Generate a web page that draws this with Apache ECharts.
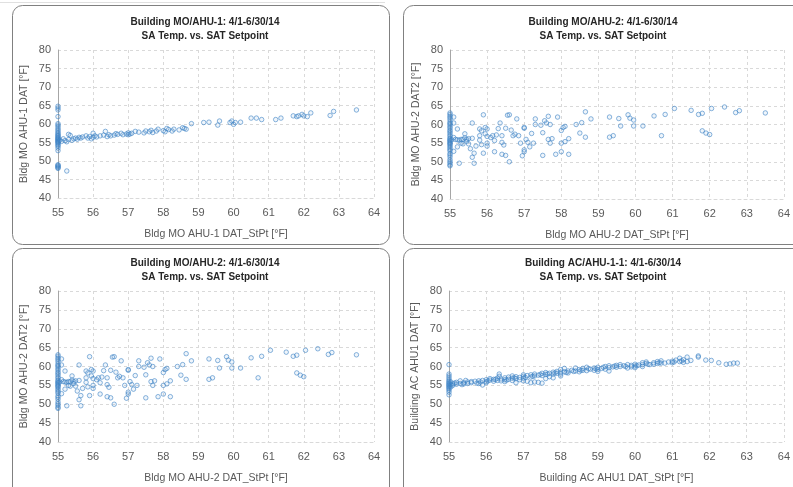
<!DOCTYPE html>
<html>
<head>
<meta charset="utf-8">
<script src="https://cdn.jsdelivr.net/npm/echarts@6/dist/echarts.min.js"></script>
<style>
  html, body { margin: 0; padding: 0; background: #fff; }
  #main { width: 793px; height: 487px; }
</style>
</head>
<body>
<div id="main"></div>
<script>
// panel titles and axis names
var titles = [
    'Building MO/AHU-1: 4/1-6/30/14',
    'Building MO/AHU-2: 4/1-6/30/14',
    'Building MO/AHU-2: 4/1-6/30/14',
    'Building AC/AHU-1-1: 4/1-6/30/14'
];
var subTitle = 'SA Temp. vs. SAT Setpoint';
var xNames = [
    'Bldg MO AHU-1 DAT_StPt [°F]',
    'Bldg MO AHU-2 DAT_StPt [°F]',
    'Bldg MO AHU-2 DAT_StPt [°F]',
    'Building AC AHU1 DAT_StPt [°F]'
];
var yNames = [
    'Bldg MO AHU-1 DAT [°F]',
    'Bldg MO AHU-2 DAT2 [°F]',
    'Bldg MO AHU-2 DAT2 [°F]',
    'Building AC AHU1 DAT [°F]'
];
var xTicks = [55, 56, 57, 58, 59, 60, 61, 62, 63, 64];
var yTicks = [40, 45, 50, 55, 60, 65, 70, 75, 80];

// MO AHU-1 : [setpoint, DAT]
var moAhu1 = [
    [55,52.8],[55,53.5],[55,54],[55,54.3],[55,54.6],[55,54.9],[55,55.1],[55,55.3],[55,55.5],[55,55.7],
    [55,55.9],[55,56.1],[55,56.3],[55,56.5],[55,56.8],[55,57],[55,57.3],[55,57.6],[55,58],[55,58.4],
    [55,58.8],[55,59.3],[55,59.7],[55,60.1],[55,62],[55,63.8],[55,64.3],[55,64.8],
    [55,48],[55,48.2],[55,48.4],[55,48.6],[55,48.8],[55,49],
    [55.05,55.6],[55.1,55.3],[55.15,56],[55.2,55.5],[55.25,55.2],[55.25,47.3],[55.3,57.2],[55.3,55.8],
    [55.35,56.9],[55.4,55.6],[55.45,56],[55.5,56.2],[55.55,55.9],[55.6,56.4],[55.65,56.2],[55.7,56.5],
    [55.8,56.8],[55.85,56.2],[55.9,56.6],[55.95,56],[56,57.5],[56,56.4],[56.05,56.8],[56.1,56.5],
    [56.2,56.8],[56.3,57],[56.35,58],[56.4,56.6],[56.45,57.1],[56.5,56.8],[56.6,57],[56.65,57.4],
    [56.7,57.2],[56.8,57.5],[56.85,57.1],[56.95,57.3],[57,57.6],[57,57.1],[57.05,57.3],[57.1,57.5],
    [57.2,58],[57.3,57.8],[57.45,57.6],[57.5,58.1],[57.6,57.9],[57.65,58.3],[57.7,57.7],[57.8,58.1],
    [57.85,58.6],[58,58.2],[58.05,57.9],[58.1,58.8],[58.15,58.5],[58.25,58.1],[58.3,58.6],[58.45,58.4],
    [58.55,59],[58.6,58.8],[58.65,58.6],[58.8,60.1],[59.15,60.4],[59.3,60.5],[59.55,59.7],[59.6,60.8],
    [59.9,60.4],[59.95,60.8],[60,59.9],[60.05,60.4],[60.2,60.5],[60.5,61.6],[60.65,61.6],[60.8,61.2],
    [61.2,61.2],[61.35,61.6],[61.7,62.2],[61.8,62],[61.85,62.2],[61.95,62.6],[62,62.2],[62.1,62],
    [62.2,63],[62.75,62.3],[62.85,63.4],[63.5,63.8]
];

// MO AHU-2 : [setpoint, DAT2]
var moAhu2 = [
    [55,48.9],[55,49.2],[55,49.7],[55,50.1],[55,50.6],[55,51.3],[55,51.8],[55,52.2],[55,52.9],[55,53.3],
    [55,53.7],[55,54.1],[55,54.5],[55,54.8],[55,55],[55,55.3],[55,55.6],[55,55.8],[55,56.1],[55,56.4],
    [55,56.9],[55,57.3],[55,57.8],[55,58.2],[55,58.6],[55,59.1],[55,59.5],[55,60],[55,60.3],[55,60.7],
    [55,61.3],[55,61.8],[55,62.2],[55,62.7],[55,63.1],
    [55.05,55.9],[55.2,55.9],[55.25,55.8],[55.35,56],[55.45,56],
    [55.1,62],[55.1,60.4],[55.1,56.5],[55.1,52.8],[55.15,56],[55.2,58.8],[55.2,54],[55.25,49.6],
    [55.3,56],[55.3,55],[55.35,54.8],[55.4,57.5],[55.4,56.4],[55.45,55.5],[55.5,56.2],[55.5,54.8],
    [55.55,53.5],[55.6,60.4],[55.6,56.3],[55.6,51.2],[55.65,52.3],[55.65,49.6],[55.7,54.2],[55.8,57],
    [55.8,55.8],[55.8,58.8],[55.85,58.3],[55.85,54.6],[55.9,62.6],[55.9,52.3],[55.95,59.2],[55.95,57.5],
    [56,56.8],[56,55],[56,54.2],[56,58.8],[56.1,56.5],[56.15,57],[56.2,55.7],[56.2,52.7],
    [56.25,57.2],[56.3,58.9],[56.35,60.4],[56.4,57],[56.4,55.2],[56.45,54.5],[56.4,52],[56.5,51.7],
    [56.5,59],[56.55,62.5],[56.6,62.6],[56.6,50],[56.65,58.5],[56.7,57],[56.75,57.4],[56.8,61.5],
    [56.85,57],[56.9,55],[56.95,51.6],[57,59],[57,59.2],[57,52.7],[57,53.2],[57.05,56],
    [57.1,55.2],[57.15,54],[57.2,57.6],[57.25,55],[57.3,61.5],[57.3,60],[57.45,59.8],[57.5,57.8],
    [57.5,51.7],[57.55,61],[57.6,60.4],[57.65,62.2],[57.65,56],[57.7,60],[57.7,55],[57.75,56.2],
    [57.9,62],[57.85,52],[58,58.4],[58,55],[58,52.7],[58.05,59.2],[58.1,59.5],[58.1,55.4],
    [58.2,56.2],[58.2,52],[58.4,60],[58.5,57.7],[58.55,60.5],[58.65,63.4],[58.65,56.6],[58.8,61.5],
    [59.3,62],[59.3,56.6],[59.4,57],[59.55,61.6],[59.6,59.6],[59.8,62.6],[59.85,61.7],[59.95,61.2],
    [59.95,59.6],[60.2,59.6],[60.5,62.3],[60.7,57],[60.8,62.7],[61.05,64.3],[61.5,63.8],[61.7,62.7],
    [61.8,63],[61.8,58.3],[61.9,57.7],[62,57.3],[62.05,64.3],[62.4,64.7],[62.7,63.2],[62.8,63.7],
    [63.5,63.1]
];

// AC AHU-1-1 : [setpoint, DAT]
var acAhu1 = [
    [55,52.5],[55,53.2],[55,53.7],[55,54.1],[55,54.4],[55,54.7],[55,55],[55,55.2],[55,55.5],[55,55.8],
    [55,56.1],[55,56.5],[55,57],[55,57.5],[55,58],[55,60.5],
    [55.05,55.2],[55.05,54.6],[55.05,55.9],[55.1,55.4],[55.1,55],[55.15,55.6],[55.2,55.3],[55.2,55.8],
    [55.3,55.5],[55.3,56.2],[55.35,55.2],[55.4,55.7],[55.4,55.4],[55.5,55.9],[55.5,55.5],[55.6,56],
    [55.6,55.7],[55.7,56.1],[55.8,56.2],[55.8,55.5],[55.85,55.9],[55.9,56.3],[55.9,55.1],[56,56.5],
    [56,56],[56,55.7],[56.1,56.4],[56.1,56.8],[56.2,56.6],[56.2,56.1],[56.3,56.9],[56.3,56.3],
    [56.35,58],[56.35,57.4],[56.4,56.7],[56.4,56.2],[56.5,57],[56.5,56.5],[56.5,56],[56.6,57.2],
    [56.6,56.6],[56.7,56.9],[56.7,56.3],[56.7,57.5],[56.8,57.3],[56.8,56.8],[56.8,55.7],[56.9,57.1],
    [56.9,56.5],[57,57.4],[57,56.9],[57,56.2],[57,57.8],[57.1,57.6],[57.1,56.1],[57.2,57.8],
    [57.2,57.2],[57.2,55.7],[57.3,58],[57.3,57.5],[57.3,55.9],[57.4,57.7],[57.4,55.8],[57.5,58.2],
    [57.5,57.6],[57.5,55.6],[57.6,58.4],[57.6,57.9],[57.6,56.8],[57.7,58.2],[57.7,57.3],[57.8,58.5],
    [57.8,58],[57.8,57],[57.9,58.7],[57.9,58.2],[58,59.2],[58,58.5],[58,58],[58,57.5],
    [58.1,59.5],[58.1,58.6],[58.2,58.8],[58.2,58.3],[58.3,59],[58.4,59.6],[58.4,58.8],[58.5,59.2],
    [58.5,58.6],[58.6,59.5],[58.6,59],[58.7,59.8],[58.7,58.9],[58.8,59.3],[58.9,59.6],[58.9,59],
    [59,59.8],[59,59.2],[59,58.7],[59.1,59.5],[59.2,60],[59.2,59.3],[59.3,60.2],[59.3,59.7],
    [59.3,58.8],[59.4,59.9],[59.5,60.3],[59.5,59.8],[59.6,60.5],[59.6,60],[59.7,60.2],[59.8,60.5],
    [59.8,59.6],[59.9,60.3],[59.9,59.9],[60,60.6],[60,60.1],[60,59.7],[60.1,60.4],[60.2,61],
    [60.2,60.5],[60.2,60],[60.3,60.8],[60.3,61.2],[60.4,60.5],[60.5,61],[60.5,60.6],[60.6,61.3],
    [60.6,60.8],[60.7,61.5],[60.7,60.9],[60.8,60.9],[60.9,61.2],[61,61.4],[61,61],[61.1,61.7],
    [61.2,62.2],[61.2,61.3],[61.3,61.8],[61.3,61.1],[61.4,62.5],[61.4,61.3],[61.5,61.6],[61.7,62.8],
    [61.7,62.5],[61.9,61.7],[62.05,61.6],[62.25,61],[62.45,60.6],[62.55,60.7],[62.65,60.9],[62.75,60.9],
    [55.45,56.3],[55.75,55.6],[56.05,56.2],[56.25,56.6],[56.55,56.4],[56.75,57],[57.05,57.1],[57.25,57.4],
    [57.45,57.9],[57.65,58],[57.85,58.3],[58.15,58.4],[58.35,58.7],[58.55,59],[58.75,59.4],[58.95,59.4],
    [59.15,59.8],[59.45,60.1],[59.75,60],[60.05,60.2],[60.35,60.6],[60.65,61],[61.05,61.2],[61.25,61.5]
];

var panelData = [moAhu1, moAhu2, moAhu2, acAhu1];

// layout of the four panels
var grids = [
    { left: 58, top: 50, width: 316, height: 148 },
    { left: 450, top: 50, width: 334, height: 149 },
    { left: 58, top: 291, width: 316, height: 151 },
    { left: 449, top: 291, width: 335, height: 151 }
];
var boxes = [
    { x: 12, y: 5, w: 377, h: 239 },
    { x: 403, y: 5, w: 400, h: 239 },
    { x: 12, y: 248, w: 377, h: 250 },
    { x: 403, y: 248, w: 400, h: 250 }
];

var fontFam = '"Liberation Sans", Arial, sans-serif';
var gridLine = { show: true, lineStyle: { color: '#d9d9d9', type: [3, 3], width: 1 } };

var option = {
    animation: false,
    backgroundColor: '#fff',
    textStyle: { fontFamily: fontFam },
    title: [],
    grid: [],
    xAxis: [],
    yAxis: [],
    series: [],
    graphic: []
};

for (var i = 0; i < 4; i++) {
    var g = grids[i];
    var b = boxes[i];
    option.title.push({
        text: titles[i] + '\n' + subTitle,
        left: (i % 2 == 0) ? 200 : 598,
        textAlign: 'center',
        top: g.top - 40,
        textStyle: { fontSize: 10, fontWeight: 'bold', color: '#262626', lineHeight: 14, fontFamily: fontFam }
    });
    option.grid.push({ left: g.left, top: g.top, width: g.width, height: g.height });
    option.xAxis.push({
        type: 'value',
        gridIndex: i,
        min: 55, max: 64, interval: 1,
        name: xNames[i],
        nameLocation: 'middle',
        nameGap: 31,
        nameTextStyle: { fontSize: 10.5, color: '#595959' },
        axisLine: { show: true, lineStyle: { color: '#d9d9d9', type: [3, 3] } },
        axisTick: { show: false },
        axisLabel: { fontSize: 11, color: '#595959', margin: 9 },
        splitLine: gridLine
    });
    option.yAxis.push({
        type: 'value',
        gridIndex: i,
        min: 40, max: 80, interval: 5,
        name: yNames[i],
        nameLocation: 'middle',
        nameGap: 28,
        nameTextStyle: { fontSize: 10.5, color: '#595959' },
        axisLine: { show: true, lineStyle: { color: '#a6a6a6' } },
        axisTick: { show: false },
        axisLabel: { fontSize: 11, color: '#595959', margin: 7 },
        splitLine: gridLine
    });
    option.series.push({
        type: 'scatter',
        xAxisIndex: i,
        yAxisIndex: i,
        symbol: 'circle',
        symbolSize: 4.5,
        itemStyle: {
            color: 'rgba(91,155,213,0.12)',
            borderColor: 'rgba(60,130,196,0.75)',
            borderWidth: 1
        },
        data: panelData[i]
    });
    option.graphic.push({
        type: 'rect',
        shape: { x: b.x + 0.5, y: b.y + 0.5, width: b.w, height: b.h, r: 10 },
        style: { fill: 'none', stroke: '#808080', lineWidth: 1 },
        silent: true
    });
}
option.graphic.push({
    type: 'line',
    shape: { x1: 0, y1: 2.5, x2: 385, y2: 2.5 },
    style: { stroke: '#e0e0e0', lineWidth: 1 },
    silent: true
});

var myChart = echarts.init(document.getElementById('main'));
myChart.setOption(option);
</script>
</body>
</html>
